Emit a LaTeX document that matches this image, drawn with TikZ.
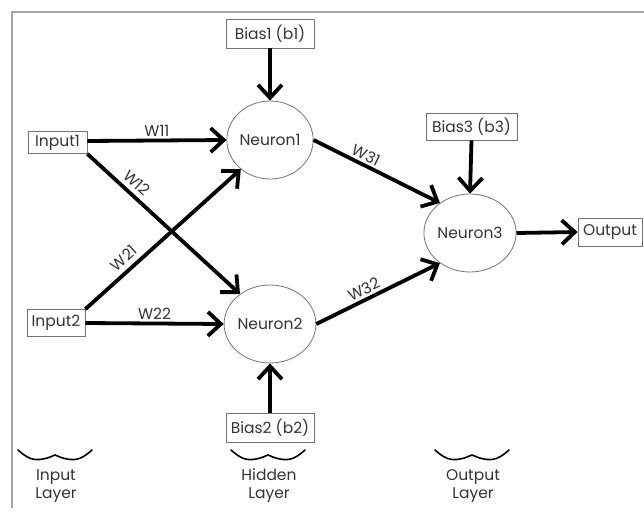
\documentclass[tikz,border=0pt]{standalone}
\usepackage{fontspec}
\setmainfont{Poppins}
\usetikzlibrary{arrows.meta,shapes.geometric}
\begin{document}
\begin{tikzpicture}[x=1pt,y=-1pt,
  txt/.style={text=black!80,font=\fontsize{15.5}{17}\selectfont},
  neuron/.style={txt,draw=black!55,line width=0.8pt,ellipse,minimum width=86pt,minimum height=78pt,inner sep=0pt},
  inbox/.style={txt,draw=black!55,line width=0.8pt,rectangle,inner xsep=1.5pt,inner ysep=0pt,minimum height=27pt},
  conn/.style={line width=3.8pt,-{Straight Barb[length=13pt,width=24pt]}},
  wlab/.style={txt,inner sep=4.5pt},
  brace/.style={line width=1.6pt,line cap=round},
  frame/.style={draw=black!35,line width=1.5pt}
]
\useasboundingbox (0,0) rectangle (644,516);
\draw[frame] (12,508) -- (12,12) -- (644,12);

\node[neuron] (n1) at (270,140) {Neuron1};
\node[neuron] (n2) at (270,324) {Neuron2};
\node[neuron] (n3) at (470,233) {Neuron3};

\node[inbox,minimum width=59pt,minimum height=22pt] (in1) at (57.5,142.5) {Input1};
\node[inbox,minimum width=58pt] (in2) at (56,323) {Input2};
\node[inbox,minimum width=88pt,minimum height=29pt] (b1) at (270,33.5) {Bias1 (b1)};
\node[inbox,minimum width=88pt,minimum height=29pt] (b2) at (270,427.5) {Bias2 (b2)};
\node[inbox,minimum width=91pt] (b3) at (471.5,126.5) {Bias3 (b3)};
\node[inbox,minimum width=64pt,minimum height=28pt] (out) at (610,232) {Output};

\draw[conn] (in1.east |- 0,141) -- node[wlab,above,pos=0.5,inner sep=2pt] {W11} (n1.west);
\draw[conn] (in1.south east) -- node[wlab,sloped,above,pos=0.27] {W12} (n2.135);
\draw[conn] (in2.north east) -- node[wlab,sloped,above,pos=0.3] {W21} (n1.225);
\draw[conn] (in2.east) -- node[wlab,above,pos=0.5,inner sep=2pt] {W22} (n2.west);
\draw[conn] (n1.east) -- node[wlab,sloped,above,pos=0.38,inner sep=2.5pt] {W31} (n3.135);
\draw[conn] (n2.east) -- node[wlab,sloped,above,pos=0.42,inner sep=2.5pt] {W32} (n3.225);
\draw[conn] (b1.south) -- (n1.north);
\draw[conn] (b2.north) -- (n2.south);
\draw[conn] (b3.south) -- (n3.north);
\draw[conn] (n3.east) -- (out.west);

\foreach \cx/\nm/\lab in {55/il/Input, 268/hl/Hidden, 472/ol/Output}{
  \draw[brace] (\cx-37,450) .. controls (\cx-28,458) and (\cx-22,461) .. (\cx-12,459)
     .. controls (\cx-6,458) and (\cx-3,456) .. (\cx,455)
     .. controls (\cx+3,456) and (\cx+6,458) .. (\cx+12,459)
     .. controls (\cx+22,461) and (\cx+28,458) .. (\cx+37,450);
  \node[txt,align=center,inner sep=0pt] (\nm) at (\cx+1,486) {\lab\\[1pt]Layer};
}
\end{tikzpicture}
\end{document}
